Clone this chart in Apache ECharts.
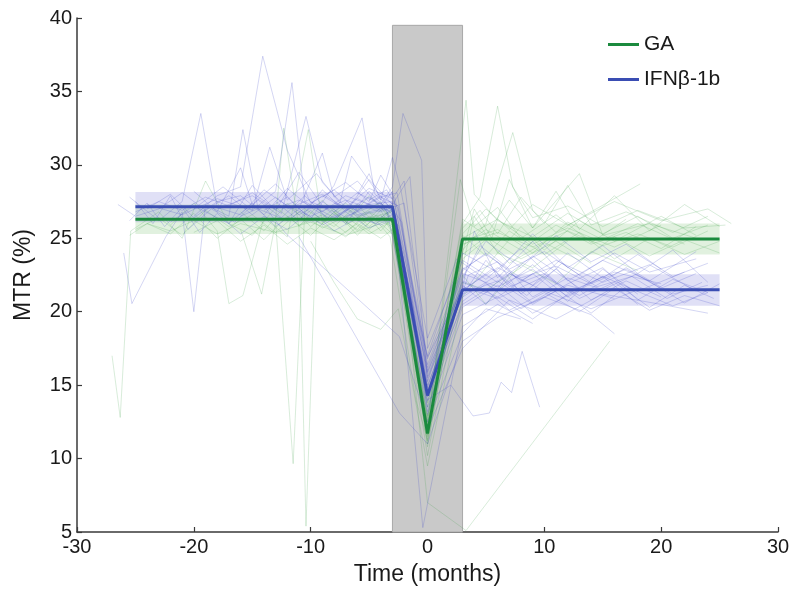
<!DOCTYPE html>
<html>
<head>
<meta charset="utf-8">
<script src="https://cdn.jsdelivr.net/npm/echarts@6/dist/echarts.min.js"></script>
<style>html,body{margin:0;padding:0;background:#fff}#c{width:794px;height:593px}</style>
</head>
<body>
<div id="c"></div>
<script>
// ---- data ----
const seriesNames = ['GA', 'IFNβ-1b'];
const xTicks = [-30, -20, -10, 0, 10, 20, 30];
const yTicks = [5, 10, 15, 20, 25, 30, 35, 40];
const treatmentWindow = [-3, 3];     // shaded interval (months)
const treatmentTop = 39.5;

// group means (time, MTR)
const gaMean  = [[-25, 26.3], [-3, 26.3], [0, 11.7], [3, 24.95], [25, 24.95]];
const ifnMean = [[-25, 27.15], [-3, 27.15], [0, 14.3], [3, 21.5], [25, 21.5]];
// confidence bands [xStart, xEnd, low, high]
const gaBands  = [[-25, -3, 25.3, 27.3], [3, 25, 23.9, 26.0]];
const ifnBands = [[-25, -3, 26.1, 28.15], [3, 25, 20.4, 22.55]];

// individual trajectories, IFNβ-1b
const ifnLines = [
 [[-25,26.8],[-23,27.5],[-21,26.9],[-19,27.8],[-17,27.2],[-15,28.1],[-13,27.0],[-11,27.6],[-9,26.8],[-7,27.9],[-5,27.3],[-3,27.5],[0,14.8],[3,22.0],[5,21.3],[7,22.8],[9,21.0],[12,22.3],[15,21.5],[18,22.6],[21,21.2],[24,21.8]],
 [[-20,26.5],[-18,27.9],[-16,28.5],[-14.1,37.4],[-12,31.0],[-10,27.4],[-8,28.3],[-6,26.9],[-4,27.8],[-2.5,27.2],[0,15.5],[3,21.0],[6,22.5],[9,20.6],[12,21.8],[16,20.9]],
 [[-24,27.3],[-21,26.6],[-18,27.7],[-15,26.9],[-13,28.2],[-11.6,35.6],[-10.5,27.5],[-8,26.4],[-5,27.8],[-3,26.9],[0,14.2],[3.5,22.5],[6,23.4],[8,21.2],[11,22.9],[14,20.8],[17,22.1],[20,21.0]],
 [[-25.5,27.8],[-23,26.2],[-21,27.5],[-19.4,33.5],[-18,27.1],[-16,26.6],[-14,28.3],[-12,27.2],[-10,26.5],[-7,27.6],[-4,26.8],[-2,27.4],[0,15.9],[3,21.7],[6,20.9],[10,22.4],[13,21.1],[17,23.0],[22,20.6],[25,21.9]],
 [[-26,24.0],[-25.3,20.55],[-22.4,25.1],[-21,26.8],[-20,20.0],[-19,27.3],[-17,26.5],[-15.8,32.4],[-14.5,27.0],[-12,26.2],[-9,27.9],[-6,26.5],[-3.5,27.0],[0,13.5],[3,20.3],[6,21.8],[9,19.9],[13,21.5]],
 [[-18,27.0],[-15,27.9],[-12.5,26.7],[-10.4,33.3],[-9,28.8],[-7,27.1],[-5,28.4],[-3,27.7],[-2,28.9],[0,16.4],[3,22.8],[5,24.0],[8,22.1],[11,23.5],[15,22.0],[19,23.2],[23,21.4]],
 [[-14,26.9],[-12,27.8],[-10,26.3],[-8,28.6],[-5.6,33.2],[-4.5,28.0],[-3,27.0],[0,14.9],[3,21.2],[6,22.1],[9,20.5],[12,21.9],[15,23.0],[18,20.8],[21,22.2],[24,21.3]],
 [[-10,27.5],[-8,26.8],[-6,28.1],[-4,27.3],[-3,28.5],[-2.1,33.5],[-0.5,30.3],[0,17.5],[3,23.5],[6,22.0],[9,23.8],[13,21.6]],
 [[-16,26.5],[-14,27.2],[-12.1,25.3],[-2.4,18.3],[0,12.5],[3,18.5],[5,20.2],[8,19.5]],
 [[-12,27.0],[-9,28.0],[-6,26.6],[-3,27.2],[0,14.0],[2,15.0],[3.9,12.9],[5.3,13.1],[6.3,15.2],[7.2,14.5],[8.1,17.3],[9.6,13.5]],
 [[-24,27.0],[-22,28.0],[-20,26.4],[-18,27.5],[-16,27.9],[-14,26.6],[-12,28.4],[-10,27.1],[-8,26.2],[-6,27.7],[-4,26.9],[-3,27.4],[0,15.2],[3,22.2],[4.5,24.5],[7,22.9],[10,24.1],[13,22.5],[16,24.0],[19,22.7],[23,23.6]],
 [[-22,26.1],[-20,27.2],[-17,26.0],[-15,27.4],[-13,25.8],[-11,27.0],[-9,25.9],[-7,26.8],[-5,25.7],[-3,26.4],[0,13.9],[3,20.7],[5,21.9],[8,20.2],[11,21.6],[14,19.9],[17,21.7],[21,20.4],[24,21.3]],
 [[-9,27.8],[-7,28.8],[-5,27.5],[-4,29.3],[-3,28.0],[0,16.8],[3,23.0],[6,21.4],[9,23.2],[12,21.3],[16,22.7],[20,21.9]],
 [[-20,28.2],[-18,26.8],[-16,29.8],[-15,27.3],[-13,28.7],[-11,27.0],[-9,30.8],[-8,27.8],[-6,28.9],[-4,27.1],[-3,28.2],[0,15.6],[3,21.8],[5,20.5],[7,22.6],[10,21.4],[14,20.2],[18,21.5]],
 [[-25,27.5],[-23.5,26.0],[-22,27.9],[-20.5,25.6],[-18.5,27.0],[-16.5,26.1],[-14.5,27.6],[-12.5,26.4],[-10.5,27.9],[-8.5,26.3],[-6.5,27.1],[-4.5,26.0],[-2.8,26.7],[0,14.6],[3,21.4],[5.5,22.9],[8.5,21.1],[11.5,23.3],[14.5,21.7],[17.5,22.4],[20.5,20.9],[23.5,22.0]],
 [[-6,28.0],[-5,29.4],[-4,27.6],[-3,30.5],[-2.3,28.4],[0,18.2],[2.5,23.6],[5,22.2],[8,24.3],[11,22.0]],
 [[-17,26.0],[-15,28.6],[-13,26.9],[-11,29.5],[-9,27.2],[-7,26.0],[-5,28.2],[-3,26.6],[0,13.0],[3,19.8],[6,21.0],[9,19.5],[12,21.2],[15,22.4],[18,20.5]],
 [[-11,25.1],[-2.4,13.1],[0,11.0],[3,18.0],[6,19.6],[10,21.0],[14,19.8],[16,18.5]],
 [[-8,27.4],[-6,26.9],[-4,27.9],[-2.7,26.5],[0,15.0],[3,21.1],[5,23.5],[7,21.7],[10,22.6],[13,20.9],[16,22.0],[19,20.3],[22,21.8],[24.5,20.9]],
 [[-26.5,27.3],[-25,26.5],[-23,27.0],[-21,28.1],[-19,26.9],[-17,27.9],[-15,26.6],[-13,27.8],[-11,26.6],[-9,27.5],[-7,26.4],[-5,27.3],[-3,26.8],[0,16.0],[3,22.6],[6,21.7],[9,22.9],[12,21.0],[15,22.4],[18,21.4],[22,22.7]],
 [[-7,26.5],[-4,27.4],[-2.8,26.0],[-0.4,5.3],[3,19.0],[6,20.5],[9,19.2]],
 [[-13,27.5],[-11,26.2],[-9,28.3],[-7,26.8],[-5,29.0],[-3,27.3],[0,16.9],[3,21.6],[4,25.5],[6,22.3],[9,24.8],[12,22.1],[15,23.5],[19,22.1],[23,24.1]],
 [[-25.5,26.2],[-24,27.4],[-22.5,25.8],[-21,27.1],[-19.5,25.4],[-18,26.7],[-16,25.3],[-14,26.5],[-12,25.6],[-10,26.9],[-8,25.5],[-6,26.4],[-4,25.9],[-3,26.3],[0,14.4],[3,20.5],[5,21.5],[7,20.1],[10,21.3],[13,20.0],[16,21.6],[19,20.1],[22,21.1],[25,20.4]],
 [[-3,27.3],[-1.5,29.2],[0,15.3],[3,22.9],[5,23.9],[8,22.3],[11,23.1],[14,21.9],[17,22.9],[20,21.6],[23,22.6]],
 [[-5,27.6],[-3.5,28.3],[-2.5,27.0],[0,16.2],[3,22.4],[5,24.8],[8,23.0],[11,25.2],[14,23.4],[17,24.6],[20,22.9]],
 [[-4,26.4],[-3,27.0],[-2.2,26.1],[0,13.2],[3,21.5],[6,23.0],[9,21.8],[12,24.0],[15,22.3],[18,23.9],[21,22.4],[24,23.3]],
 [[-2.8,27.8],[0,17.0],[3,24.0],[6,22.7],[9,25.3],[12,23.0],[15,24.5],[18,22.6],[21,24.2],[24,22.0]],
 [[-3,26.0],[0,12.0],[3,17.5],[7,20.8],[11,19.5],[15,21.2],[20,20.5],[24,19.9]],
 [[-20,27.0],[-17.5,28.5],[-15,26.9],[-13.5,31.2],[-12,27.6],[-9.5,29.4],[-7.5,27.4],[-6.5,30.6],[-4,27.8],[-2.6,28.1],[0,15.8],[3,22.1],[6,21.0],[9,22.6],[12,20.7],[15,22.9],[18,21.2]]
];

// individual trajectories, GA
const gaLines = [
 [[-25,25.6],[-23,26.4],[-21,25.2],[-19,26.9],[-17,25.8],[-15,26.6],[-13,25.4],[-11,26.8],[-9,25.7],[-7,26.5],[-5,25.3],[-3,26.2],[0,11.5],[3,24.5],[5,25.6],[8,24.2],[11,25.9],[14,24.6],[17,25.4],[20,24.3],[23,25.8]],
 [[-27,17.0],[-26.3,12.8],[-25.4,25.5],[-23,26.8],[-21,25.0],[-19,28.9],[-17,26.0],[-15,25.2],[-13,27.1],[-11,25.9],[-9,26.6],[-7,25.4],[-5,26.8],[-3,25.9],[0,12.2],[3,25.0],[6,26.3],[9,24.6],[12,25.7],[16,24.4],[20,25.9]],
 [[-16,25.6],[-14.2,21.2],[-13,26.1],[-11.5,9.65],[-10.5,27.0],[-8,25.8],[-6,27.3],[-4,25.5],[-2.8,26.6],[0,10.8],[3,23.9],[5,25.1],[8,23.6],[11,24.8],[14,23.3]],
 [[-13,26.3],[-12.3,32.5],[-11,25.7],[-10.4,5.4],[-9.5,26.2],[-7,25.1],[-5,26.5],[-3,25.8],[0,12.8],[3,24.8],[6,25.6],[9,24.0],[12,26.1],[15,24.9],[18,26.0],[22,24.6]],
 [[-22,25.9],[-20,27.4],[-18,25.5],[-17,20.55],[-15.8,21.1],[-14,26.4],[-12,25.1],[-10.2,32.4],[-9,26.0],[-7,27.2],[-5,25.6],[-3,26.9],[0,11.9],[3.3,34.4],[4.0,28.0],[6,26.2],[9,25.1],[12,26.7],[15,25.3],[18,26.5],[21,25.0],[24,25.9]],
 [[-9,26.1],[-7,27.4],[-5,25.8],[-3,27.0],[0,13.5],[3,26.0],[4.5,27.8],[6.0,34.0],[7.3,28.5],[9,26.4],[12,27.2],[15,25.8],[18,26.9],[22,25.7],[25.5,25.9]],
 [[-6,26.4],[-4,27.5],[-3,26.0],[0,11.0],[3,24.2],[5,26.0],[7.3,32.2],[9,26.9],[11,25.4],[14,26.8],[18.2,28.7]],
 [[-4,26.5],[-2.5,25.9],[0,7.0],[3.3,5.1],[15.6,18.0]],
 [[-24,26.0],[-22,25.3],[-20,26.7],[-18,25.0],[-16,26.3],[-14,24.9],[-12,26.5],[-10,25.2],[-8,26.8],[-6,25.5],[-4,26.6],[-3,25.4],[0,12.0],[3,23.6],[5,24.9],[7,23.3],[10,24.7],[13,23.5],[16,25.1],[19,23.8],[22,24.9],[25,24.0]],
 [[-11,25.8],[-9,27.6],[-7,26.0],[-5,27.9],[-3,26.3],[0,13.8],[3,25.3],[5,27.0],[7,25.6],[9,27.3],[12,25.9],[16,27.5],[20,26.2],[24,27.0],[26,26.0]],
 [[-20,25.4],[-18,26.2],[-16,24.8],[-14,25.9],[-12,24.6],[-10,25.7],[-8,24.9],[-6,26.0],[-4,25.0],[-3,25.6],[0,10.2],[3,22.5],[5,20.5],[8,23.2],[11,21.9],[14,24.1],[18,22.8]],
 [[-7,25.9],[-5,26.8],[-3.2,25.1],[-1,14.0],[0,11.3],[3,23.1],[4,26.5],[6,24.0],[8,25.8],[10,24.2],[13,26.2],[16,24.8],[20,26.5],[23,25.2]],
 [[-3,26.5],[0,12.5],[2.8,29.0],[4,25.8],[6,27.1],[8,25.0],[11,26.6],[14,24.7],[17,26.3]],
 [[-16,26.8],[-14,25.5],[-12,27.4],[-10,25.8],[-8,27.0],[-6,25.2],[-4,26.9],[-3,25.5],[0,12.6],[3,25.2],[5,23.8],[7,25.5],[10,23.9],[13,25.4],[16,23.6],[19,25.0],[22,23.9],[25,24.8]],
 [[-2,22.5],[0,14.5],[3,22.0],[5,21.5],[8,23.0]],
 [[-10,24.8],[-8,22.0],[-6,19.5],[-4,18.8],[-2.5,20.2],[0,9.5],[3,21.0],[6,24.0],[9,23.0],[12,24.8]],
 [[-25.5,25.2],[-24,26.0],[-22,25.5],[-20,26.2],[-18,25.3],[-16,26.0],[-13,25.4],[-10,26.1],[-7,25.2],[-4,26.0],[-3,25.3],[0,11.2],[3,24.6],[6,25.4],[9,24.4],[12,25.5],[15,24.5],[18,25.3],[21,24.4],[24,25.5]],
 [[-8,26.7],[-6,25.6],[-4,27.1],[-3,26.1],[0,12.9],[3,26.3],[5,25.2],[7,27.6],[9,25.7],[11,28.2],[13,25.6],[16,27.9],[19,25.5],[22,27.3],[25,25.8]],
 [[-3,25.7],[0,11.6],[3,25.7],[4.5,26.9],[6,25.3],[8,27.8],[10,26.0],[12,28.6],[14,25.9],[17,26.8],[21,25.4],[24,26.5]],
 [[-6,26.2],[-3,26.8],[0,12.4],[3,24.0],[4,27.0],[5.5,25.0],[7,29.0],[9,25.7],[13,29.4],[15,25.2],[19,26.0],[23,25.0]]
];

// ---- chart ----
const GREEN = '#1b8a3e', BLUE = '#3a4db3';
const FONT = 'Liberation Sans, Arial, Helvetica, sans-serif';
const chart = echarts.init(document.getElementById('c'), null, {renderer: 'canvas'});

const series = [];
// shaded treatment window
series.push({
  type: 'line', data: [], silent: true, z: 0,
  markArea: {
    silent: true,
    itemStyle: {color: '#c9c9c9', borderColor: '#a8a8a8', borderWidth: 1},
    data: [[{coord: [treatmentWindow[0], treatmentTop]}, {coord: [treatmentWindow[1], 5]}]]
  }
});
function spaghetti(lines, color) {
  lines.forEach(l => series.push({
    type: 'line', data: l, showSymbol: false, silent: true, z: 1,
    lineStyle: {color: color, width: 1}, animation: false
  }));
}
spaghetti(gaLines, 'rgba(60,160,70,0.2)');
spaghetti(ifnLines, 'rgba(60,70,200,0.22)');
function bands(b, color) {
  series.push({
    type: 'line', data: [], silent: true, z: 2,
    markArea: {
      silent: true, itemStyle: {color: color},
      data: b.map(r => [{coord: [r[0], r[3]]}, {coord: [r[1], r[2]]}])
    }
  });
}
bands(gaBands, 'rgba(120,190,110,0.22)');
bands(ifnBands, 'rgba(100,100,210,0.2)');
series.push({name: seriesNames[0], type: 'line', data: gaMean, showSymbol: false, z: 4,
  lineStyle: {color: GREEN, width: 3}, itemStyle: {color: GREEN}});
series.push({name: seriesNames[1], type: 'line', data: ifnMean, showSymbol: false, z: 3,
  lineStyle: {color: BLUE, width: 3}, itemStyle: {color: BLUE}});

const axisCommon = {
  axisLine: {show: true, onZero: false, lineStyle: {color: '#3a3a3a', width: 1.5}},
  axisTick: {show: true, inside: true, length: 5, lineStyle: {color: '#3a3a3a', width: 1.2}},
  splitLine: {show: false},
  axisLabel: {color: '#1a1a1a', fontSize: 20, fontFamily: FONT},
  nameTextStyle: {color: '#1a1a1a', fontSize: 23, fontFamily: FONT}
};

chart.setOption({
  animation: false,
  backgroundColor: '#fff',
  grid: {left: 77, right: 16, top: 18, bottom: 61, containLabel: false},
  legend: {
    data: seriesNames.map(n => ({name: n, icon: 'rect'})),
    orient: 'vertical', left: 608, top: 34, padding: 0,
    itemWidth: 31, itemHeight: 3, itemGap: 14,
    textStyle: {fontSize: 21, fontFamily: FONT, color: '#1a1a1a', lineHeight: 21}
  },
  xAxis: Object.assign({}, axisCommon, {
    type: 'value', min: xTicks[0], max: xTicks[xTicks.length - 1], interval: 10,
    name: 'Time (months)', nameLocation: 'middle', nameGap: 31,
    axisLabel: Object.assign({}, axisCommon.axisLabel, {margin: 5})
  }),
  yAxis: Object.assign({}, axisCommon, {
    type: 'value', min: yTicks[0], max: yTicks[yTicks.length - 1], interval: 5,
    name: 'MTR (%)', nameLocation: 'middle', nameGap: 42, nameRotate: 90,
    axisLabel: Object.assign({}, axisCommon.axisLabel, {margin: 5})
  }),
  series: series
});
</script>
</body>
</html>
